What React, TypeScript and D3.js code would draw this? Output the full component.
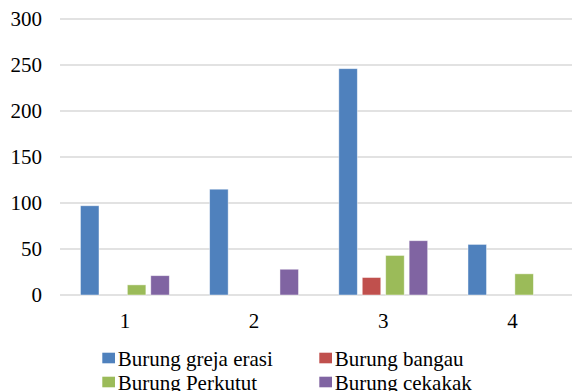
import React from "react";
import * as d3 from "d3";

const categories = ["1", "2", "3", "4"];
const seriesNames = ["Burung greja erasi", "Burung bangau", "Burung Perkutut", "Burung cekakak"];
const gereja = [97, 115, 246, 55];
const bangau = [0, 0, 19, 0];
const perkutut = [11, 0, 43, 23];
const cekakak = [21, 28, 59, 0];
const yTicks = [0, 50, 100, 150, 200, 250, 300];
const colors = ["#4F81BD", "#C0504D", "#9BBB59", "#8064A2"];

const W = 572;
const H = 391;
const FONT = "'Liberation Serif', 'Times New Roman', serif";
const textStyle: React.CSSProperties = { fontFamily: FONT, fontSize: "21px" };

export default function App() {
  const seriesValues = [gereja, bangau, perkutut, cekakak];
  const x0 = d3.scaleBand<string>().domain(categories).range([60.3, 577]).paddingInner(0).paddingOuter(0);
  const x1 = d3
    .scaleBand<string>()
    .domain(seriesNames)
    .range([0, x0.bandwidth()])
    .paddingInner(0.21)
    .paddingOuter(0.86);
  const y = d3.scaleLinear().domain([0, 300]).range([295, 19]);

  const legendItems = [
    { name: seriesNames[0], color: colors[0], x: 102.3, y: 366 },
    { name: seriesNames[1], color: colors[1], x: 319.3, y: 366 },
    { name: seriesNames[2], color: colors[2], x: 102.3, y: 390 },
    { name: seriesNames[3], color: colors[3], x: 319.3, y: 390 },
  ];

  return (
    <svg width={W} height={H} style={{ position: "absolute", left: 0, top: 0, background: "#fff" }}>
      <rect x={0} y={0} width={W} height={H} fill="#fff" />
      {yTicks.map((t) => (
        <g key={t}>
          <line x1={60} x2={W} y1={y(t)} y2={y(t)} stroke="#d9d9d9" strokeWidth={1.5} />
          <text x={42} y={y(t)} dy="0.35em" textAnchor="end" style={textStyle} fill="#000">
            {t}
          </text>
        </g>
      ))}
      {categories.map((c, ci) => (
        <g key={c} transform={`translate(${x0(c)},0)`}>
          {seriesNames.map((s, si) => {
            const v = seriesValues[si][ci];
            if (!v) return null;
            return (
              <rect
                key={s}
                x={x1(s)}
                y={y(v)}
                width={x1.bandwidth()}
                height={y(0) - y(v)}
                fill={colors[si]}
                stroke="#ffffff"
                strokeOpacity={0.55}
                strokeWidth={0.8}
              />
            );
          })}
          <text x={x0.bandwidth() / 2} y={328} textAnchor="middle" style={textStyle} fill="#000">
            {c}
          </text>
        </g>
      ))}
      {legendItems.map((it) => (
        <g key={it.name}>
          <rect x={it.x} y={it.y - 13.3} width={12.7} height={10.6} fill={it.color} />
          <text x={it.x + 15.4} y={it.y} style={textStyle} fill="#000">
            {it.name}
          </text>
        </g>
      ))}
    </svg>
  );
}
